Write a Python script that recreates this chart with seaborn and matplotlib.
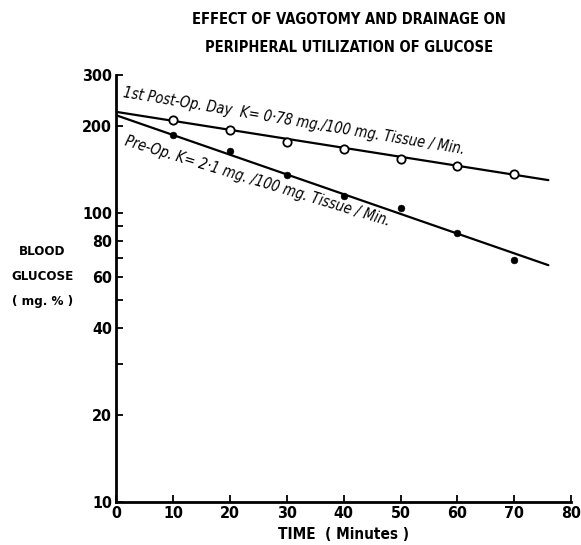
import numpy as np
import pandas as pd
import matplotlib
matplotlib.use("Agg")
import matplotlib.pyplot as plt
import seaborn as sns

# Data
time_min = [10, 20, 30, 40, 50, 60, 70]
post_op = [210, 194, 176, 167, 154, 145, 136]
pre_op = [186, 164, 135, 115, 104, 85, 69]

# fitted lines (end points)
fit_x = [0, 76]
post_fit = [224, 130]
pre_fit = [218, 66]

y_ticks = [10, 20, 30, 40, 50, 60, 70, 80, 90, 100, 200, 300]
y_labels = ["10", "20", "", "40", "", "60", "", "80", "", "100", "200", "300"]
x_ticks = [0, 10, 20, 30, 40, 50, 60, 70, 80]

sns.set_style("ticks")
plt.rcParams['font.family'] = ['DejaVu Sans']
plt.rcParams['font.stretch'] = 'condensed'
plt.rcParams['text.color'] = 'black'
plt.rcParams['xtick.color'] = 'black'
plt.rcParams['ytick.color'] = 'black'
plt.rcParams['axes.edgecolor'] = 'black'
plt.rcParams['axes.labelcolor'] = 'black'

fig = plt.figure(figsize=(5.81, 5.45), dpi=100)
ax = fig.add_axes([0.2, 0.079, 0.783, 0.783])

pts = pd.DataFrame({'time': time_min, 'post': post_op, 'pre': pre_op})
lines = pd.DataFrame({'time': fit_x, 'post': post_fit, 'pre': pre_fit})

sns.lineplot(data=lines, x='time', y='post', color='black', lw=1.6, ax=ax)
sns.lineplot(data=lines, x='time', y='pre', color='black', lw=1.6, ax=ax)
sns.scatterplot(data=pts, x='time', y='post', marker='o', facecolor='white',
                edgecolor='black', linewidth=1.3, s=36, ax=ax, zorder=3)
sns.scatterplot(data=pts, x='time', y='pre', marker='o', color='black',
                edgecolor='black', s=24, ax=ax, zorder=3)

ax.set_yscale('log')
ax.set_xlim(0, 80)
ax.set_ylim(10, 300)
ax.set_yticks(y_ticks)
ax.set_yticklabels(y_labels)
ax.yaxis.set_minor_locator(matplotlib.ticker.NullLocator())
ax.set_xticks(x_ticks)
ax.set_xticklabels([str(t) for t in x_ticks])
ax.tick_params(direction='in', length=5, width=1.3, labelsize=11.5, pad=3)
for lab in ax.get_xticklabels() + ax.get_yticklabels():
    lab.set_fontweight('bold')
for s in ['top', 'right']:
    ax.spines[s].set_visible(False)
for s in ['left', 'bottom']:
    ax.spines[s].set_linewidth(2)

ax.set_xlabel("TIME  ( Minutes )", fontsize=11, labelpad=4, fontweight='bold')
ax.set_ylabel("")

fig.text(0.073, 0.492, "BLOOD\nGLUCOSE\n( mg. % )", ha='center', va='center',
         fontsize=9.5, linespacing=2.2, fontweight='bold')
fig.text(0.6, 0.965, "EFFECT OF VAGOTOMY AND DRAINAGE ON", ha='center',
         va='center', fontsize=10.5, fontweight='bold')
fig.text(0.6, 0.913, "PERIPHERAL UTILIZATION OF GLUCOSE", ha='center',
         va='center', fontsize=10.5, fontweight='bold')

ax.text(1.2, 262, "1st Post-Op. Day  K= 0·78 mg./100 mg. Tissue / Min.",
        rotation=-9.5, rotation_mode='anchor', ha='left', va='center',
        fontsize=10.5, style='italic')
ax.text(1.5, 178, "Pre-Op. K= 2·1 mg. /100 mg. Tissue / Min.",
        rotation=-17, rotation_mode='anchor', ha='left', va='center',
        fontsize=10.5, style='italic')

fig.savefig("out.png", dpi=100)
